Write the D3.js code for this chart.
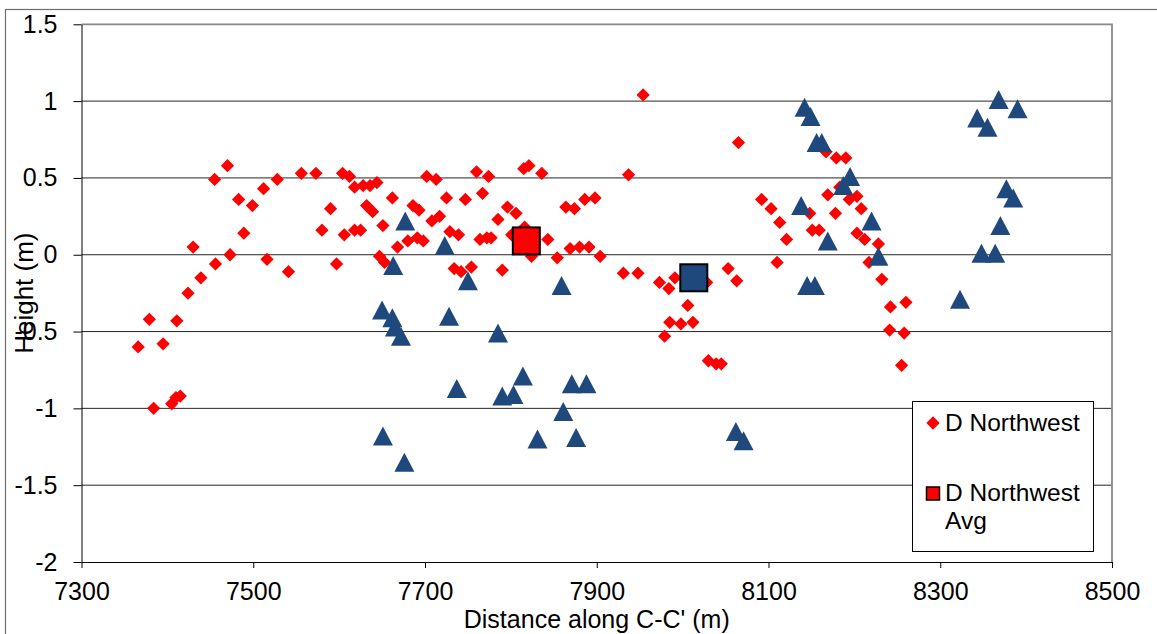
<!DOCTYPE html>
<meta charset="utf-8">
<style>
body { margin: 0; background: #fff; }
svg { display: block; font-family: "Liberation Sans", Arial, sans-serif; }
.grid line { stroke: #262626; stroke-width: 1; }
.axis text { font-size: 25px; fill: #000; }
.axis line, .axis path { stroke: #000; }
</style>
<svg width="1157" height="634"></svg>
<script src="https://cdn.jsdelivr.net/npm/d3@7"></script>
<script>

// tick labels
var xTicks = [7300, 7500, 7700, 7900, 8100, 8300, 8500];
var yTicks = [-2, -1.5, -1, -0.5, 0, 0.5, 1, 1.5];

// D Northwest (red diamonds)
var redX = [7366,7379,7384,7395,7411,7405,7410,7415,7430,7424,
            7439,7456,7473,7455,7470,7483,7489,7499,7512,7516,
            7528,7541,7556,7573,7580,7590,7597,7604,7612,7606,
            7618,7625,7618,7628,7636,7644,7632,7639,7651,7647,
            7653,7662,7668,7680,7691,7698,7686,7693,7702,7713,
            7708,7717,7725,7729,7739,7734,7742,7754,7747,7760,
            7774,7767,7764,7772,7777,7785,7790,7796,7806,7801,
            7815,7821,7836,7816,7824,7843,7854,7864,7874,7886,
            7898,7869,7880,7891,7904,7937,7954,7931,7948,7973,
            7984,7991,7985,7998,8012,7979,8006,8030,8039,8045,
            8028,8053,8063,8065,8092,8103,8113,8121,8110,8148,
            8151,8159,8178,8169,8167,8179,8190,8183,8194,8203,
            8208,8203,8212,8228,8217,8232,8242,8260,8241,8258,
            8255];
var redY = [-0.60,-0.42,-1.00,-0.58,-0.43,-0.97,-0.93,-0.92,0.05,-0.25,
            -0.15,-0.06,0.00,0.49,0.58,0.36,0.14,0.32,0.43,-0.03,
            0.49,-0.11,0.53,0.53,0.16,0.30,-0.06,0.53,0.51,0.13,
            0.16,0.16,0.44,0.45,0.45,0.47,0.32,0.28,0.19,-0.01,
            -0.05,0.37,0.05,0.09,0.11,0.09,0.32,0.29,0.51,0.49,
            0.22,0.25,0.37,0.15,0.13,-0.09,-0.11,-0.08,0.36,0.54,
            0.51,0.40,0.10,0.11,0.11,0.23,-0.10,0.31,0.27,0.13,
            0.56,0.58,0.53,0.18,-0.01,0.10,-0.02,0.31,0.30,0.36,
            0.37,0.04,0.05,0.05,-0.01,0.52,1.04,-0.12,-0.12,-0.18,
            -0.22,-0.15,-0.44,-0.45,-0.44,-0.53,-0.33,-0.69,-0.71,-0.71,
            -0.18,-0.09,-0.17,0.73,0.36,0.30,0.21,0.10,-0.05,0.27,
            0.16,0.16,0.27,0.39,0.67,0.63,0.63,0.44,0.36,0.38,
            0.30,0.14,0.10,0.07,-0.05,-0.16,-0.34,-0.31,-0.49,-0.51,
            -0.72];

// blue triangles
var blueX = [7677,7723,7663,7750,7859,7650,7662,7665,7672,7728,
             7785,7737,7814,7790,7803,7871,7888,7861,7831,7876,7651,7676,
             8142,8149,8156,8162,8195,8187,8138,8220,8169,8228,8145,8154,
             8062,8071,
             8368,8390,8343,8355,8377,8385,8370,8348,8364,8323];
var blueY = [0.22,0.06,-0.07,-0.17,-0.20,-0.36,-0.41,-0.47,-0.53,-0.40,
             -0.51,-0.87,-0.79,-0.92,-0.91,-0.84,-0.84,-1.02,-1.20,-1.19,-1.18,-1.35,
             0.96,0.90,0.73,0.73,0.51,0.45,0.32,0.22,0.09,-0.01,-0.20,-0.20,
             -1.15,-1.21,
             1.01,0.95,0.89,0.83,0.43,0.37,0.19,0.01,0.01,-0.29];

// averages
var redAvg = [7818, 0.09];
var blueAvg = [8013, -0.15];

var legendNames = ["D Northwest", "D Northwest", "Avg"];

var RED = "#ff0000", BLUE = "#1f497d";

var svg = d3.select("svg");

var x = d3.scaleLinear().domain([7300, 8500]).range([81.5, 1112]);
var y = d3.scaleLinear().domain([-2, 1.5]).range([562, 24.3]);

// outer chart border (cropped at right/bottom)
svg.append("rect")
    .attr("x", 5.5).attr("y", 9.5)
    .attr("width", 1200).attr("height", 700)
    .attr("fill", "none")
    .attr("stroke", "#6e6e6e")
    .attr("stroke-width", 1.2);

// gridlines
svg.append("g").attr("class", "grid")
  .selectAll("line")
  .data(yTicks.filter(function(d) { return d > -2 && d < 1.5; }))
  .enter().append("line")
    .attr("x1", x(7300)).attr("x2", x(8500))
    .attr("y1", function(d) { return y(d); })
    .attr("y2", function(d) { return y(d); });

// plot area top / right border
svg.append("path")
    .attr("d", "M" + x(7300) + "," + y(1.5) + "H" + x(8500) + "V" + y(-2))
    .attr("fill", "none")
    .attr("stroke", "#8a8a8a")
    .attr("stroke-width", 1.8);

// axes
svg.append("g")
    .attr("class", "axis")
    .attr("transform", "translate(" + x(7300) + ",0)")
    .call(d3.axisLeft(y).tickValues(yTicks).tickSize(8).tickSizeOuter(0).tickPadding(16)
      .tickFormat(function(d) { return String(d); }));

svg.append("g")
    .attr("class", "axis")
    .attr("transform", "translate(0," + y(-2) + ")")
    .call(d3.axisBottom(x).tickValues(xTicks).tickSize(6).tickSizeOuter(0).tickPadding(14)
      .tickFormat(function(d) { return String(d); }));

// markers
var diamond = {
  draw: function(ctx, size) {
    var r = Math.sqrt(size) / 2 * Math.SQRT2;
    ctx.moveTo(0, -r); ctx.lineTo(r, 0); ctx.lineTo(0, r); ctx.lineTo(-r, 0); ctx.closePath();
  }
};
var triangle = {
  draw: function(ctx, size) {
    var w = Math.sqrt(size) / 2;
    ctx.moveTo(0, -w * 0.95); ctx.lineTo(w, w * 0.95); ctx.lineTo(-w, w * 0.95); ctx.closePath();
  }
};

var redPts = redX.map(function(d, i) { return [d, redY[i]]; });
var bluePts = blueX.map(function(d, i) { return [d, blueY[i]]; });

svg.append("g").selectAll("path")
  .data(redPts)
  .enter().append("path")
    .attr("transform", function(d) { return "translate(" + x(d[0]) + "," + y(d[1]) + ")"; })
    .attr("d", d3.symbol().type(diamond).size(88))
    .attr("fill", RED);

svg.append("g").selectAll("path")
  .data(bluePts)
  .enter().append("path")
    .attr("transform", function(d) { return "translate(" + x(d[0]) + "," + y(d[1]) + ")"; })
    .attr("d", d3.symbol().type(triangle).size(400))
    .attr("fill", BLUE);

// average squares
[[redAvg, RED], [blueAvg, BLUE]].forEach(function(a) {
  svg.append("rect")
    .attr("x", x(a[0][0]) - 13.5).attr("y", y(a[0][1]) - 13.5)
    .attr("width", 27).attr("height", 27)
    .attr("fill", a[1])
    .attr("stroke", "#000")
    .attr("stroke-width", 2);
});

// axis titles
svg.append("text")
    .attr("x", (x(7300) + x(8500)) / 2)
    .attr("y", 628.3)
    .attr("text-anchor", "middle")
    .attr("font-size", 25)
    .text("Distance along C-C' (m)");

svg.append("text")
    .attr("transform", "translate(33," + (y(-2) + y(1.5)) / 2 + ") rotate(-90)")
    .attr("text-anchor", "middle")
    .attr("font-size", 26)
    .text("Height (m)");

// legend
var lg = svg.append("g");
lg.append("rect")
    .attr("x", 912.5).attr("y", 401.5)
    .attr("width", 181).attr("height", 150)
    .attr("fill", "#fff")
    .attr("stroke", "#000")
    .attr("stroke-width", 1);

lg.append("path")
    .attr("transform", "translate(933,423)")
    .attr("d", d3.symbol().type(diamond).size(88))
    .attr("fill", RED);
lg.append("text").attr("x", 945).attr("y", 431).attr("font-size", 24.5).text(legendNames[0]);

lg.append("rect")
    .attr("x", 926.5).attr("y", 487)
    .attr("width", 13).attr("height", 13)
    .attr("fill", RED)
    .attr("stroke", "#000")
    .attr("stroke-width", 1.5);
lg.append("text").attr("x", 945).attr("y", 501).attr("font-size", 24.5).text(legendNames[1]);
lg.append("text").attr("x", 945).attr("y", 529).attr("font-size", 24.5).text(legendNames[2]);

</script>
